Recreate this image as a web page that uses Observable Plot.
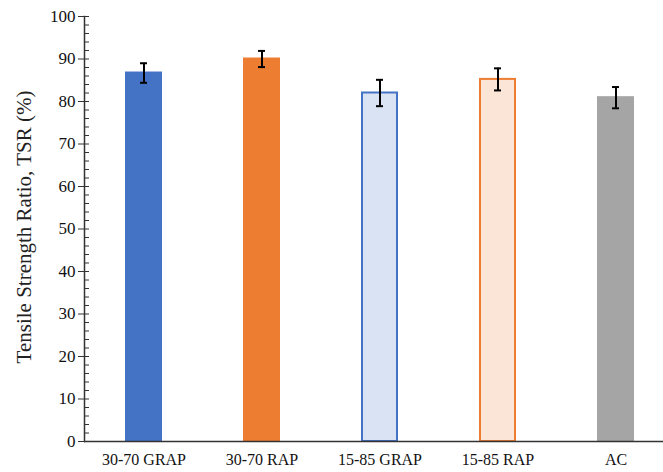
<!DOCTYPE html>
<html>
<head>
<meta charset="utf-8">
<script src="https://cdn.jsdelivr.net/npm/d3@7"></script>
<script src="https://cdn.jsdelivr.net/npm/@observablehq/plot@0.6"></script>
<style>
  body { margin: 0; background: #fff; }
</style>
</head>
<body>
<div id="chart"></div>
<script>
const categories = ["30-70 GRAP", "30-70 RAP", "15-85 GRAP", "15-85 RAP", "AC"];
const tsr = [86.7, 90.0, 82.0, 85.2, 80.9];
const errors = [2.3, 1.9, 3.1, 2.6, 2.5];
const fills = ["#4472C4", "#ED7D31", "#DAE3F3", "#FBE5D6", "#A5A5A5"];
const strokes = ["#4472C4", "#ED7D31", "#4472C4", "#ED7D31", "#A5A5A5"];
const majorTicks = d3.range(0, 101, 10);
const minorTicks = d3.range(0, 101, 2);
const yLabel = "Tensile Strength Ratio, TSR (%)";

const data = categories.map((c, i) => ({
  cat: c, v: tsr[i], e: errors[i], fill: fills[i], stroke: strokes[i]
}));

const serif = "Liberation Serif";

const chart = Plot.plot({
  width: 663,
  height: 472,
  marginLeft: 84,
  marginTop: 16,
  marginBottom: 31,
  marginRight: 0,
  style: { fontFamily: serif, fontSize: "16px", color: "#111", background: "#fff" },
  x: { domain: categories, range: [84, 674], paddingInner: 0.69, paddingOuter: 0.345, align: 0.5 },
  y: { domain: [0, 100], range: [441, 16] },
  marks: [
    Plot.barY(data, {
      x: "cat", y: "v",
      fill: d => d.fill,
      stroke: d => d.stroke,
      strokeWidth: 2,
      insetLeft: 1, insetRight: 1
    }),
    Plot.ruleX(data, { x: "cat", y1: d => d.v - d.e, y2: d => d.v + d.e, stroke: "#000", strokeWidth: 2 }),
    Plot.tickY(data, { x: "cat", y: d => d.v - d.e, stroke: "#000", strokeWidth: 2, insetLeft: 15, insetRight: 15 }),
    Plot.tickY(data, { x: "cat", y: d => d.v + d.e, stroke: "#000", strokeWidth: 2, insetLeft: 15, insetRight: 15 }),
    Plot.axisY({ ticks: minorTicks, tickSize: 5, dx: 5, text: null, label: null, stroke: "#333" }),
    Plot.axisY({
      ticks: majorTicks, tickSize: 6, tickPadding: 3, stroke: "#333", fontSize: 17, fontFamily: serif,
      label: null
    }),
    Plot.text([yLabel], {
      frameAnchor: "left", textAnchor: "middle", dx: -60, dy: -2, rotate: -90,
      fontSize: 21, fontFamily: serif, fill: "#222"
    }),
    Plot.axisX({ tickSize: 0, tickPadding: 12, label: null, fontSize: 16, fontFamily: serif }),
    Plot.frame({ anchor: "left", stroke: "#333", strokeWidth: 1.5 }),
    Plot.ruleY([0], { stroke: "#333", strokeWidth: 1.5 })
  ]
});

document.getElementById("chart").appendChild(chart);
</script>
</body>
</html>
